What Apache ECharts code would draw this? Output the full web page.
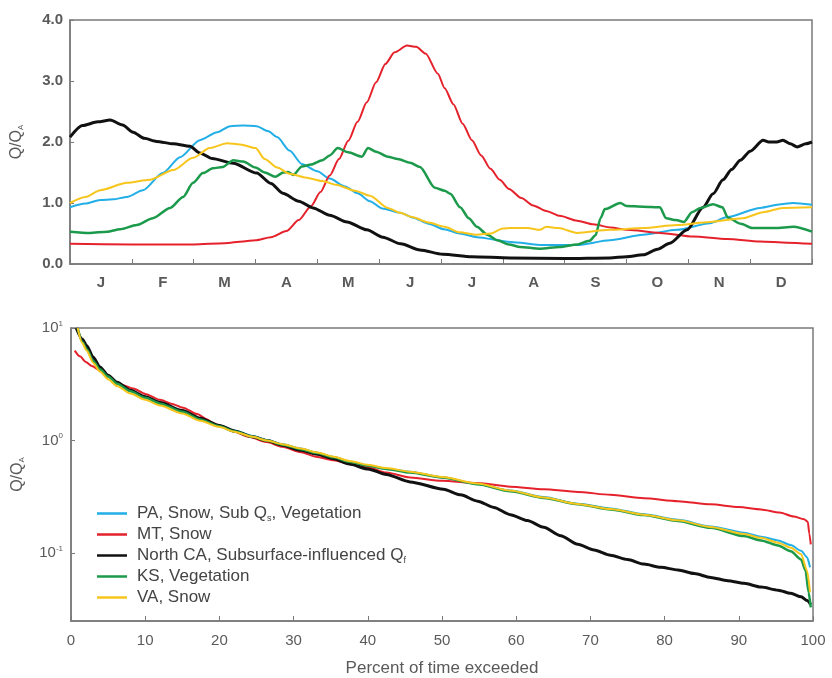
<!DOCTYPE html>
<html>
<head>
<meta charset="utf-8">
<title>Seasonal hydrographs and flow duration curves</title>
<script src="https://cdn.jsdelivr.net/npm/echarts@6/dist/echarts.min.js"></script>
<style>
  html, body { margin: 0; padding: 0; background: #fff; }
  #chart { width: 832px; height: 678px; }
</style>
</head>
<body>
<div id="chart"></div>
<script>
// ---- categories and labels ----
const monthNames = ['Jan', 'Feb', 'Mar', 'Apr', 'May', 'Jun', 'Jul', 'Aug', 'Sep', 'Oct', 'Nov', 'Dec'];
const seriesNames = [
  'PA, Snow, Sub Qs, Vegetation',
  'MT, Snow',
  'North CA, Subsurface-influenced Qf',
  'KS, Vegetation',
  'VA, Snow'
];
const legendLabels = [
  'PA, Snow, Sub Q{sub|s}, Vegetation',
  'MT, Snow',
  'North CA, Subsurface-influenced Q{sub|f}',
  'KS, Vegetation',
  'VA, Snow'
];
const seriesColors = ['#22aee6', '#e5222b', '#111111', '#1c9a4b', '#f7c51b'];
const seriesWidths = [2, 2, 3, 2.5, 2];
const topTickLabels = ['0.0', '1.0', '2.0', '3.0', '4.0'];
const percentTicks = [0, 10, 20, 30, 40, 50, 60, 70, 80, 90, 100];

// ---- seasonal flow, Q/QA against months since 1 January ----
const paSeasonal = [
  [0, 0.93], [0.25, 0.99], [0.49, 1.05], [0.7, 1.06], [0.92, 1.10], [1.18, 1.21], [1.5, 1.49],
  [1.78, 1.75], [2.1, 2.03], [2.38, 2.16], [2.59, 2.26], [2.8, 2.27], [3.02, 2.26], [3.2, 2.18],
  [3.35, 2.08], [3.55, 1.86], [3.75, 1.64], [4.0, 1.52], [4.2, 1.40], [4.45, 1.27], [4.65, 1.16],
  [4.85, 1.03], [5.05, 0.91], [5.34, 0.84], [5.55, 0.76], [5.8, 0.66], [6.05, 0.57], [6.3, 0.50],
  [6.58, 0.44], [7.12, 0.36], [7.65, 0.31], [8.2, 0.31], [8.73, 0.39], [9.27, 0.48], [9.82, 0.56],
  [10.35, 0.67], [10.63, 0.77], [11.16, 0.92], [11.5, 0.98], [11.69, 1.0], [12, 0.97]
];
const mtSeasonal = [
  [0, 0.33], [1, 0.32], [2, 0.32], [2.5, 0.34], [2.8, 0.37], [3.0, 0.39], [3.25, 0.44], [3.5, 0.54],
  [3.7, 0.72], [3.9, 0.95], [4.05, 1.18], [4.2, 1.45], [4.35, 1.72], [4.5, 2.02], [4.65, 2.33],
  [4.8, 2.65], [4.95, 2.98], [5.1, 3.28], [5.25, 3.47], [5.45, 3.58], [5.6, 3.56], [5.75, 3.45],
  [5.95, 3.12], [6.06, 2.88], [6.2, 2.62], [6.35, 2.30], [6.5, 2.03], [6.65, 1.78], [6.8, 1.56],
  [6.95, 1.38], [7.1, 1.23], [7.3, 1.08], [7.49, 0.96], [7.7, 0.87], [7.92, 0.79], [8.2, 0.71],
  [8.46, 0.65], [8.75, 0.60], [9.01, 0.56], [9.54, 0.51], [10.08, 0.45], [10.63, 0.41], [11.16, 0.37],
  [11.6, 0.35], [12, 0.33]
];
const ncaSeasonal = [
  [0, 2.08], [0.2, 2.27], [0.45, 2.33], [0.65, 2.36], [0.85, 2.28], [1.02, 2.16], [1.2, 2.06],
  [1.4, 2.01], [1.67, 1.97], [1.94, 1.93], [2.1, 1.82], [2.3, 1.73], [2.64, 1.65], [3.02, 1.49],
  [3.25, 1.32], [3.44, 1.16], [3.7, 1.03], [3.93, 0.92], [4.2, 0.80], [4.48, 0.69], [4.8, 0.56],
  [5.06, 0.44], [5.35, 0.33], [5.66, 0.23], [6.03, 0.16], [6.5, 0.12], [7.12, 0.10], [8.0, 0.09],
  [8.73, 0.10], [9.0, 0.12], [9.27, 0.15], [9.5, 0.24], [9.7, 0.34], [9.98, 0.56], [10.24, 0.93],
  [10.4, 1.15], [10.56, 1.38], [10.7, 1.55], [10.84, 1.70], [11.0, 1.85], [11.21, 2.03], [11.3, 2.0],
  [11.43, 2.0], [11.53, 2.03], [11.65, 1.97], [11.76, 1.92], [11.9, 1.97], [12, 2.0]
];
const ksSeasonal = [
  [0, 0.53], [0.32, 0.51], [0.6, 0.53], [0.81, 0.57], [1.08, 0.64], [1.34, 0.75], [1.62, 0.92],
  [1.83, 1.10], [1.99, 1.33], [2.15, 1.49], [2.31, 1.57], [2.47, 1.59], [2.64, 1.70], [2.8, 1.68],
  [3.0, 1.58], [3.15, 1.50], [3.32, 1.43], [3.45, 1.50], [3.53, 1.51], [3.61, 1.46], [3.75, 1.60],
  [3.9, 1.63], [4.08, 1.70], [4.2, 1.78], [4.33, 1.90], [4.5, 1.83], [4.72, 1.76], [4.82, 1.90],
  [4.95, 1.84], [5.14, 1.76], [5.3, 1.72], [5.5, 1.66], [5.66, 1.59], [5.9, 1.25], [6.06, 1.20],
  [6.15, 1.15], [6.31, 0.93], [6.45, 0.75], [6.58, 0.61], [6.75, 0.48], [6.91, 0.39], [7.1, 0.32],
  [7.28, 0.28], [7.6, 0.25], [7.92, 0.28], [8.2, 0.32], [8.4, 0.38], [8.5, 0.47], [8.58, 0.75],
  [8.65, 0.90], [8.9, 1.0], [9.0, 0.95], [9.27, 0.94], [9.54, 0.93], [9.64, 0.75], [9.8, 0.72],
  [9.93, 0.69], [10.06, 0.85], [10.2, 0.92], [10.4, 0.98], [10.55, 0.93], [10.64, 0.76], [10.85, 0.66],
  [11.03, 0.59], [11.4, 0.59], [11.7, 0.61], [12, 0.53]
];
const vaSeasonal = [
  [0, 1.0], [0.25, 1.10], [0.49, 1.21], [0.92, 1.33], [1.29, 1.38], [1.67, 1.54], [1.99, 1.74],
  [2.26, 1.90], [2.54, 1.98], [2.75, 1.96], [3.0, 1.90], [3.15, 1.72], [3.35, 1.58], [3.55, 1.48],
  [3.8, 1.42], [4.08, 1.36], [4.3, 1.30], [4.61, 1.20], [4.85, 1.12], [5.14, 0.92], [5.34, 0.84],
  [5.53, 0.77], [5.8, 0.68], [6.06, 0.61], [6.3, 0.52], [6.58, 0.48], [6.8, 0.50], [7.0, 0.58],
  [7.12, 0.59], [7.4, 0.59], [7.6, 0.56], [7.7, 0.61], [7.9, 0.59], [8.2, 0.51], [8.73, 0.56],
  [9.27, 0.59], [9.82, 0.64], [10.35, 0.69], [10.88, 0.75], [11.21, 0.85], [11.53, 0.92], [12, 0.93]
];

// ---- flow duration, Q/QA against percent of time exceeded ----
const paDuration = [
  [0.8, 10], [1.5, 7.8], [2.1, 6.8], [3, 5.3], [3.9, 4.4], [5, 3.75], [6.2, 3.25], [8, 2.8],
  [10, 2.45], [12, 2.18], [15, 1.84], [17.4, 1.56], [20, 1.36], [22, 1.23], [24.5, 1.1], [26.4, 1.01],
  [28.5, 0.93], [31, 0.85], [33, 0.78], [35.4, 0.71], [37.5, 0.65], [40, 0.60], [42.5, 0.56],
  [45.7, 0.53], [50, 0.47], [54.8, 0.41], [59.2, 0.36], [63.7, 0.315], [68.3, 0.275], [72.7, 0.25],
  [77.2, 0.222], [81.8, 0.198], [86.2, 0.173], [90.7, 0.152], [93, 0.14], [95.3, 0.13], [97, 0.118],
  [98.4, 0.105], [99.2, 0.092], [99.6, 0.075]
];
const mtDuration = [
  [0.5, 6.3], [1.2, 5.6], [2, 5.0], [2.8, 4.6], [3.9, 4.2], [5, 3.7], [6.2, 3.3], [7, 3.1], [8.4, 2.9],
  [10, 2.6], [12, 2.3], [13.5, 2.13], [15.1, 1.96], [17, 1.72], [18.3, 1.55], [19, 1.45], [20, 1.36],
  [22, 1.2], [24, 1.08], [26.4, 0.97], [28.5, 0.88], [31, 0.79], [33, 0.72], [35.4, 0.67], [37.5, 0.62],
  [40, 0.58], [42.5, 0.52], [45.7, 0.47], [50, 0.44], [54.8, 0.42], [59.2, 0.39], [63.7, 0.37],
  [68.3, 0.35], [72.7, 0.33], [77.2, 0.308], [81.8, 0.29], [86.2, 0.272], [90, 0.257], [93, 0.245],
  [95.5, 0.23], [97.4, 0.212], [98.8, 0.2], [99.3, 0.19], [99.5, 0.15], [99.7, 0.12]
];
const ncaDuration = [
  [0.7, 10], [1.5, 8.0], [2.1, 7.0], [3, 5.5], [3.9, 4.5], [5, 3.8], [6.2, 3.3], [8, 2.8], [10, 2.45],
  [12, 2.18], [15, 1.85], [17.4, 1.58], [20, 1.36], [22, 1.22], [24.5, 1.08], [26.4, 1.0], [28.5, 0.91],
  [31, 0.82], [33, 0.76], [35.4, 0.69], [37.5, 0.62], [40, 0.56], [42.5, 0.50], [45.7, 0.43],
  [50.2, 0.37], [52.5, 0.33], [54.8, 0.29], [57, 0.255], [59.2, 0.22], [61.5, 0.195], [63.7, 0.17],
  [66, 0.143], [68.3, 0.12], [70.5, 0.107], [72.7, 0.096], [75, 0.088], [77.2, 0.08], [79.5, 0.075],
  [81.8, 0.071], [84, 0.066], [86.2, 0.061], [88.5, 0.057], [90.7, 0.054], [93, 0.05], [95.3, 0.047],
  [97, 0.044], [98.4, 0.041], [99.2, 0.038], [99.7, 0.035]
];
const ksDuration = [
  [0.9, 10], [1.5, 7.6], [2.1, 6.5], [3, 5.1], [3.9, 4.3], [5, 3.7], [6.2, 3.2], [8, 2.75],
  [10, 2.4], [12, 2.13], [15, 1.8], [17.4, 1.54], [20, 1.34], [22, 1.21], [24.5, 1.08], [26.4, 1.0],
  [28.5, 0.92], [31, 0.84], [33, 0.78], [35.4, 0.71], [37.5, 0.65], [40, 0.60], [42.5, 0.56],
  [45.7, 0.52], [50, 0.47], [54.8, 0.41], [59.2, 0.355], [63.7, 0.31], [68.3, 0.272], [72.7, 0.245],
  [77.2, 0.218], [81.8, 0.193], [86.2, 0.168], [90.7, 0.142], [93, 0.13], [95.3, 0.117], [97, 0.104],
  [98.4, 0.088], [99, 0.07], [99.4, 0.045], [99.7, 0.033]
];
const vaDuration = [
  [0.9, 10], [1.5, 7.4], [2.1, 6.3], [3, 4.9], [3.9, 4.1], [5, 3.5], [6.2, 3.05], [8, 2.62],
  [10, 2.3], [12, 2.05], [15, 1.74], [17.4, 1.5], [20, 1.32], [22, 1.2], [24.5, 1.08], [26.4, 1.0],
  [28.5, 0.93], [31, 0.85], [33, 0.79], [35.4, 0.72], [37.5, 0.66], [40, 0.61], [42.5, 0.57],
  [45.7, 0.53], [50, 0.475], [54.8, 0.415], [59.2, 0.36], [63.7, 0.312], [68.3, 0.274], [72.7, 0.247],
  [77.2, 0.22], [81.8, 0.196], [86.2, 0.171], [90.7, 0.148], [93, 0.137], [95.3, 0.124], [97, 0.112],
  [98.4, 0.098], [99.2, 0.07], [99.6, 0.045]
];

const seasonalData = [paSeasonal, mtSeasonal, ncaSeasonal, ksSeasonal, vaSeasonal];
const durationData = [paDuration, mtDuration, ncaDuration, ksDuration, vaDuration];

const FONT = "'Liberation Sans', Arial, Helvetica, sans-serif";
const AXIS_GREY = '#7a7a7a';
const LABEL_GREY = '#5a5a5a';

function lineSeries(i, data, xIdx, yIdx) {
  return {
    name: seriesNames[i],
    type: 'line',
    xAxisIndex: xIdx,
    yAxisIndex: yIdx,
    data: data,
    symbol: 'none',
    showSymbol: false,
    smooth: 0.25,
    smoothMonotone: 'x',
    clip: true,
    lineStyle: { color: seriesColors[i], width: seriesWidths[i] },
    itemStyle: { color: seriesColors[i] },
    emphasis: { disabled: true }
  };
}

function qName() {
  return {
    name: '{q|Q/Q}{sub|A}',
    nameLocation: 'middle',
    nameRotate: 90,
    nameGap: 45,
    nameTextStyle: {
      rich: {
        q: { fontFamily: FONT, fontSize: 16, color: LABEL_GREY },
        sub: { fontFamily: FONT, fontSize: 8, color: LABEL_GREY, padding: [9, 0, 0, 0] }
      }
    }
  };
}

const chart = echarts.init(document.getElementById('chart'), null, { renderer: 'canvas' });

chart.setOption({
  animation: false,
  backgroundColor: '#ffffff',
  textStyle: { fontFamily: FONT },
  grid: [
    { left: 70, right: 20, top: 20, height: 244, show: true, borderColor: AXIS_GREY, borderWidth: 1.5, containLabel: false },
    { left: 71, right: 19, top: 328, height: 295, show: true, borderColor: AXIS_GREY, borderWidth: 1.5, containLabel: false }
  ],
  legend: {
    orient: 'vertical',
    left: 97,
    top: 504,
    padding: 0,
    icon: 'rect',
    itemWidth: 30,
    itemHeight: 2.5,
    itemGap: 2,
    data: seriesNames,
    formatter: function (name) { return legendLabels[seriesNames.indexOf(name)]; },
    textStyle: {
      fontFamily: FONT,
      fontSize: 17,
      color: '#444',
      lineHeight: 19,
      padding: [0, 0, 0, 5],
      rich: {
        sub: { fontFamily: FONT, fontSize: 9, color: '#444', padding: [10, 0, 0, 0] }
      }
    },
    selectedMode: false
  },
  xAxis: [
    {
      gridIndex: 0,
      type: 'category',
      data: monthNames,
      boundaryGap: true,
      axisLine: { show: true, lineStyle: { color: AXIS_GREY, width: 1.5 } },
      axisTick: { show: true, inside: true, length: 5, lineStyle: { color: AXIS_GREY } },
      axisLabel: {
        margin: 11,
        fontFamily: FONT,
        fontSize: 15,
        fontWeight: 'bold',
        color: LABEL_GREY,
        formatter: function (v) { return v.charAt(0); }
      },
      splitLine: { show: false }
    },
    {
      gridIndex: 0,
      type: 'value',
      min: 0,
      max: 12,
      show: false
    },
    {
      gridIndex: 1,
      type: 'value',
      min: percentTicks[0],
      max: percentTicks[percentTicks.length - 1],
      interval: 10,
      name: 'Percent of time exceeded',
      nameLocation: 'middle',
      nameGap: 39,
      nameTextStyle: { fontFamily: FONT, fontSize: 17, color: LABEL_GREY },
      axisLine: { show: true, lineStyle: { color: AXIS_GREY, width: 1.5 } },
      axisTick: { show: true, inside: true, length: 5, lineStyle: { color: AXIS_GREY } },
      axisLabel: { margin: 12, fontFamily: FONT, fontSize: 15, color: LABEL_GREY },
      splitLine: { show: false }
    }
  ],
  yAxis: [
    Object.assign({
      gridIndex: 0,
      type: 'value',
      min: 0,
      max: 4,
      interval: 1,
      axisLine: { show: true, lineStyle: { color: AXIS_GREY, width: 1.5 } },
      axisTick: { show: true, inside: true, length: 4, lineStyle: { color: AXIS_GREY } },
      axisLabel: {
        margin: 7,
        fontFamily: FONT,
        fontSize: 15,
        fontWeight: 'bold',
        color: LABEL_GREY,
        formatter: function (v) { return topTickLabels[Math.round(v)] || ''; }
      },
      splitLine: { show: false }
    }, qName()),
    Object.assign({
      gridIndex: 1,
      type: 'log',
      logBase: 10,
      min: 0.025,
      max: 10,
      axisLine: { show: true, lineStyle: { color: AXIS_GREY, width: 1.5 } },
      axisTick: { show: true, inside: true, length: 4, lineStyle: { color: AXIS_GREY } },
      axisLabel: {
        margin: 8,
        showMinLabel: false,
        formatter: function (v) {
          const lg = Math.log10(v);
          const e = Math.round(lg);
          if (Math.abs(lg - e) > 1e-6) return '';
          return '{b|10}{s|' + e + '}';
        },
        rich: {
          b: { fontFamily: FONT, fontSize: 15, color: LABEL_GREY },
          s: { fontFamily: FONT, fontSize: 8, color: LABEL_GREY, padding: [0, 0, 9, 0] }
        }
      },
      splitLine: { show: false }
    }, qName())
  ],
  series: seasonalData.map(function (d, i) { return lineSeries(i, d, 1, 0); })
    .concat(durationData.map(function (d, i) { return lineSeries(i, d, 2, 1); }))
});
</script>
</body>
</html>
